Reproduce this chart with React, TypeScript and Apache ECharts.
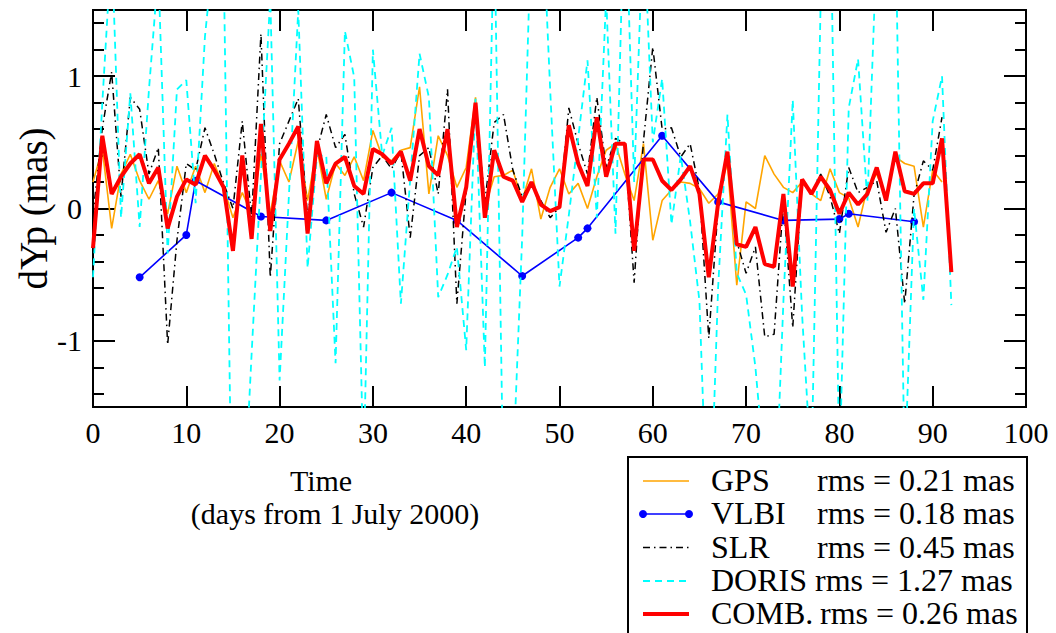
import React, { useEffect, useRef } from "react";
import * as echarts from "echarts";

// x positions: day index 0..92
const days: number[] = Array.from({ length: 93 }, (_, i) => i);

const gpsValues = [
  0.2, 0.45, -0.15, 0.26, 0.41, 0.21, 0.07, 0.21, -0.04, 0.32,
  0.12, 0.32, 0.12, 0.34, 0.16, -0.07, 0.12, -0.04, 0.41, -0.04,
  0.36, 0.2, 0.51, 0.06, 0.46, 0.07, 0.34, 0.25, 0.39, 0.21,
  0.59, 0.39, 0.36, 0.44, 0.46, 0.92, 0.11, 0.55, 0.4, 0.16,
  0.31, 0.84, 0.01, 0.24, 0.25, 0.29, 0.06, 0.3, -0.08, 0.16,
  0.3, 0.11, 0.19, 0.0, 0.24, 0.44, 0.49, 0.26, 0.06, 0.49,
  -0.24, 0.06, 0.14, 0.2, 0.19, 0.15, 0.04, 0.11, 0.34, -0.58,
  0.05, 0.0, 0.4, 0.26, 0.16, 0.12, 0.2, 0.11, 0.06, 0.3,
  0.12, 0.08, -0.14, 0.16, 0.26, 0.09, 0.39, 0.34, 0.32, -0.14,
  0.29, 0.2,
];

const vlbiDays = [5, 10, 11, 18, 25, 32, 39, 46, 52, 53, 61, 67, 74, 80, 81, 88];
const vlbiValues = [
  -0.52, -0.2, 0.21, -0.06, -0.09, 0.12, -0.09, -0.51, -0.22, -0.15, 0.55,
  0.05, -0.09, -0.08, -0.04, -0.1,
];

const slrValues = [
  -0.05, 0.61, 1.03, 0.09, 0.84, 0.75, 0.26, 0.46, -1.03, -0.24,
  0.34, 0.29, 0.61, 0.41, 0.19, 0.0, 0.66, -0.07, 1.32, -0.52,
  0.49, 0.66, 0.83, -0.07, 0.44, 0.71, 0.46, 0.56, 0.11, -0.14,
  0.31, 0.4, 0.3, 0.43, -0.22, 0.4, 0.46, 0.11, 0.9, -0.72,
  0.14, 0.79, 0.05, 0.65, 0.71, 0.29, 0.09, 0.19, 0.06, -0.07,
  0.01, 0.76, 0.49, 0.26, 0.84, 0.31, 0.53, 0.49, -0.56, 0.51,
  1.22, 0.6, 0.61, 0.39, 0.49, 0.14, -0.98, 0.01, 0.41, -0.25,
  -0.49, -0.29, -0.97, -0.95, 0.06, -0.9, 0.21, 0.11, 0.26, 0.09,
  -0.19, 0.31, 0.12, 0.16, 0.21, -0.18, 0.0, -0.72, 0.1, 0.36,
  0.29, 0.69,
];

const dorisValues = [
  -0.52, 0.8, 2.0, -0.07, 0.87, -0.14, 0.9, 1.8, -0.34, 0.9,
  0.97, 0.04, 1.3, 2.0, 1.9, -3.0, -2.5, -1.1, 0.25, 1.6,
  -1.3, 0.1, 1.5, -0.45, 0.4, 0.4, -1.17, 1.34, 0.99, -2.0,
  1.2, 0.4, 0.61, -0.72, 0.22, 1.17, 0.84, -0.67, -0.5, -0.29,
  -1.07, 0.83, -1.2, 2.2, -2.2, -2.0, -0.22, 2.2, 2.5, 0.9,
  -0.59, -0.05, 0.53, 1.12, -0.07, 1.6, -0.19, 2.5, 0.2, 2.2,
  0.5, 0.98, -0.12, 0.4, -0.1, -0.7, -2.7, -0.6, 0.71, -0.49,
  -0.65, -1.2, -2.0, -2.5, -0.7, 0.82, -0.8, -2.0, 1.6, 2.5,
  -2.0, 0.76, 1.13, 0.05, 2.0, 1.8, 2.2, -2.0, 0.0, -0.69,
  0.66, 1.0, -0.73,
];

const combValues = [
  -0.3, 0.55, 0.11, 0.24, 0.34, 0.41, 0.19, 0.31, -0.15, 0.09,
  0.22, 0.18, 0.4, 0.29, 0.16, -0.32, 0.4, -0.23, 0.64, -0.17,
  0.37, 0.49, 0.62, -0.19, 0.51, 0.19, 0.34, 0.39, 0.17, 0.11,
  0.45, 0.41, 0.34, 0.43, 0.21, 0.6, 0.32, 0.25, 0.6, -0.14,
  0.16, 0.8, -0.07, 0.44, 0.24, 0.21, 0.05, 0.2, 0.03, -0.02,
  0.01, 0.63, 0.34, 0.17, 0.69, 0.24, 0.49, 0.49, -0.32, 0.37,
  0.37, 0.21, 0.14, 0.22, 0.32, 0.11, -0.52, 0.04, 0.43, -0.27,
  -0.29, -0.14, -0.42, -0.44, 0.11, -0.59, 0.22, 0.11, 0.24, 0.14,
  -0.04, 0.12, 0.03, 0.11, 0.31, 0.06, 0.43, 0.13, 0.11, 0.19,
  0.19, 0.53, -0.48,
];

const xTickStep = 10;
const yMajorTicks = [-1, 0, 1];
const yMinorTicks = [-1.4, -1.2, -0.8, -0.6, -0.4, -0.2, 0.2, 0.4, 0.6, 0.8, 1.2, 1.4];

const legendNames = ["GPS", "VLBI", "SLR", "DORIS", "COMB."];
const legendRms = ["rms = 0.21 mas", "rms = 0.18 mas", "rms = 0.45 mas", "rms = 1.27 mas", "rms = 0.26 mas"];

const xTitle = "Time";
const xSubTitle = "(days from 1 July 2000)";
const yTitle = "dYp (mas)";

const FONT = "'Liberation Serif', 'Times New Roman', 'DejaVu Serif', serif";
const BLACK = "#000";
const C_GPS = "#ffa500";
const C_VLBI = "#0000ff";
const C_SLR = "#000000";
const C_DORIS = "#00ffff";
const C_COMB = "#ff0000";
const DASH_SLR = [7, 4, 1.5, 4];
const DASH_DORIS = [7, 5];

const pairs = (xs: number[], ys: number[]) => ys.map((v, i) => [xs[i], v]);

const axisLine = { show: true, onZero: false, lineStyle: { color: BLACK, width: 2 } };

function xAxisDef(position: "bottom" | "top", labels: boolean) {
  return {
    type: "value",
    position,
    min: 0,
    max: 100,
    interval: xTickStep,
    axisLine,
    axisTick: { show: true, inside: true, length: 21, lineStyle: { color: BLACK, width: 2 } },
    axisLabel: {
      show: labels,
      margin: 10,
      color: BLACK,
      fontFamily: FONT,
      fontSize: 30,
    },
    splitLine: { show: false },
  };
}

function yAxisDef(position: "left" | "right", major: boolean, labels: boolean) {
  const ticks = major ? yMajorTicks : yMinorTicks;
  return {
    type: "value",
    position,
    min: -1.5,
    max: 1.5,
    axisLine,
    axisTick: {
      show: true,
      inside: true,
      length: major ? 22 : 11,
      customValues: ticks,
      lineStyle: { color: BLACK, width: 2 },
    },
    axisLabel: {
      show: labels,
      customValues: ticks,
      margin: 11,
      color: BLACK,
      fontFamily: FONT,
      fontSize: 30,
      formatter: (v: number) => String(v),
    },
    splitLine: { show: false },
  };
}

function legendGraphics() {
  const els: any[] = [];
  els.push({
    type: "rect",
    shape: { x: 628, y: 457, width: 399, height: 200 },
    style: { fill: "#fff", stroke: BLACK, lineWidth: 2 },
  });
  const rowY = [481, 514, 547.5, 581, 614];
  const rmsX = [817, 817, 817, 815, 820];
  const styles = [
    { stroke: C_GPS, lineWidth: 1.6 },
    { stroke: C_VLBI, lineWidth: 1.6 },
    { stroke: C_SLR, lineWidth: 1.5, lineDash: DASH_SLR },
    { stroke: C_DORIS, lineWidth: 2, lineDash: DASH_DORIS },
    { stroke: C_COMB, lineWidth: 4 },
  ];
  legendNames.forEach((name, i) => {
    const y = rowY[i];
    els.push({ type: "line", shape: { x1: 643, y1: y, x2: 689, y2: y }, style: styles[i] });
    if (i === 1) {
      els.push({ type: "circle", shape: { cx: 643, cy: y, r: 4 }, style: { fill: C_VLBI } });
      els.push({ type: "circle", shape: { cx: 689, cy: y, r: 4 }, style: { fill: C_VLBI } });
    }
    els.push({
      type: "text",
      x: 711,
      y: y - 1,
      style: { text: name, fill: BLACK, fontFamily: FONT, fontSize: 32, align: "left", verticalAlign: "middle" },
    });
    els.push({
      type: "text",
      x: rmsX[i],
      y: y - 1,
      style: { text: legendRms[i], fill: BLACK, fontFamily: FONT, fontSize: 32, align: "left", verticalAlign: "middle" },
    });
  });
  return els;
}

export default function App() {
  const ref = useRef<HTMLDivElement>(null);
  useEffect(() => {
    if (!ref.current) return;
    const chart = echarts.init(ref.current, undefined, { renderer: "svg" });
    const option: any = {
      animation: false,
      backgroundColor: "#fff",
      grid: { left: 93, right: 30, top: 10, bottom: 226, containLabel: false },
      xAxis: [xAxisDef("bottom", true), xAxisDef("top", false)],
      yAxis: [
        yAxisDef("left", true, true),
        yAxisDef("left", false, false),
        yAxisDef("right", true, false),
        yAxisDef("right", false, false),
      ],
      series: [
        {
          name: "GPS",
          type: "line",
          data: pairs(days, gpsValues),
          showSymbol: false,
          lineStyle: { color: C_GPS, width: 1.6 },
          itemStyle: { color: C_GPS },
          z: 2,
        },
        {
          name: "VLBI",
          type: "line",
          data: pairs(vlbiDays, vlbiValues),
          symbol: "circle",
          symbolSize: 8,
          lineStyle: { color: C_VLBI, width: 1.6 },
          itemStyle: { color: C_VLBI },
          z: 3,
        },
        {
          name: "SLR",
          type: "line",
          data: pairs(days, slrValues),
          showSymbol: false,
          lineStyle: { color: C_SLR, width: 1.5, type: DASH_SLR },
          itemStyle: { color: C_SLR },
          z: 4,
        },
        {
          name: "DORIS",
          type: "line",
          data: pairs(days, dorisValues),
          showSymbol: false,
          lineStyle: { color: C_DORIS, width: 1.8, type: DASH_DORIS },
          itemStyle: { color: C_DORIS },
          z: 5,
        },
        {
          name: "COMB.",
          type: "line",
          data: pairs(days, combValues),
          showSymbol: false,
          lineStyle: { color: C_COMB, width: 4 },
          itemStyle: { color: C_COMB },
          z: 6,
        },
      ],
      graphic: [
        {
          type: "text",
          x: 321,
          y: 480,
          style: { text: xTitle, fill: BLACK, fontFamily: FONT, fontSize: 30, align: "center", verticalAlign: "middle" },
        },
        {
          type: "text",
          x: 335,
          y: 513,
          style: { text: xSubTitle, fill: BLACK, fontFamily: FONT, fontSize: 30, align: "center", verticalAlign: "middle" },
        },
        {
          type: "text",
          x: 33,
          y: 208.5,
          rotation: Math.PI / 2,
          style: { text: yTitle, fill: BLACK, fontFamily: FONT, fontSize: 39, align: "center", verticalAlign: "middle" },
        },
        ...legendGraphics(),
      ],
    };
    chart.setOption(option);
    return () => chart.dispose();
  }, []);
  return (
    <div
      ref={ref}
      style={{ position: "fixed", left: 0, top: 0, width: 1056, height: 633, background: "#fff" }}
    />
  );
}
